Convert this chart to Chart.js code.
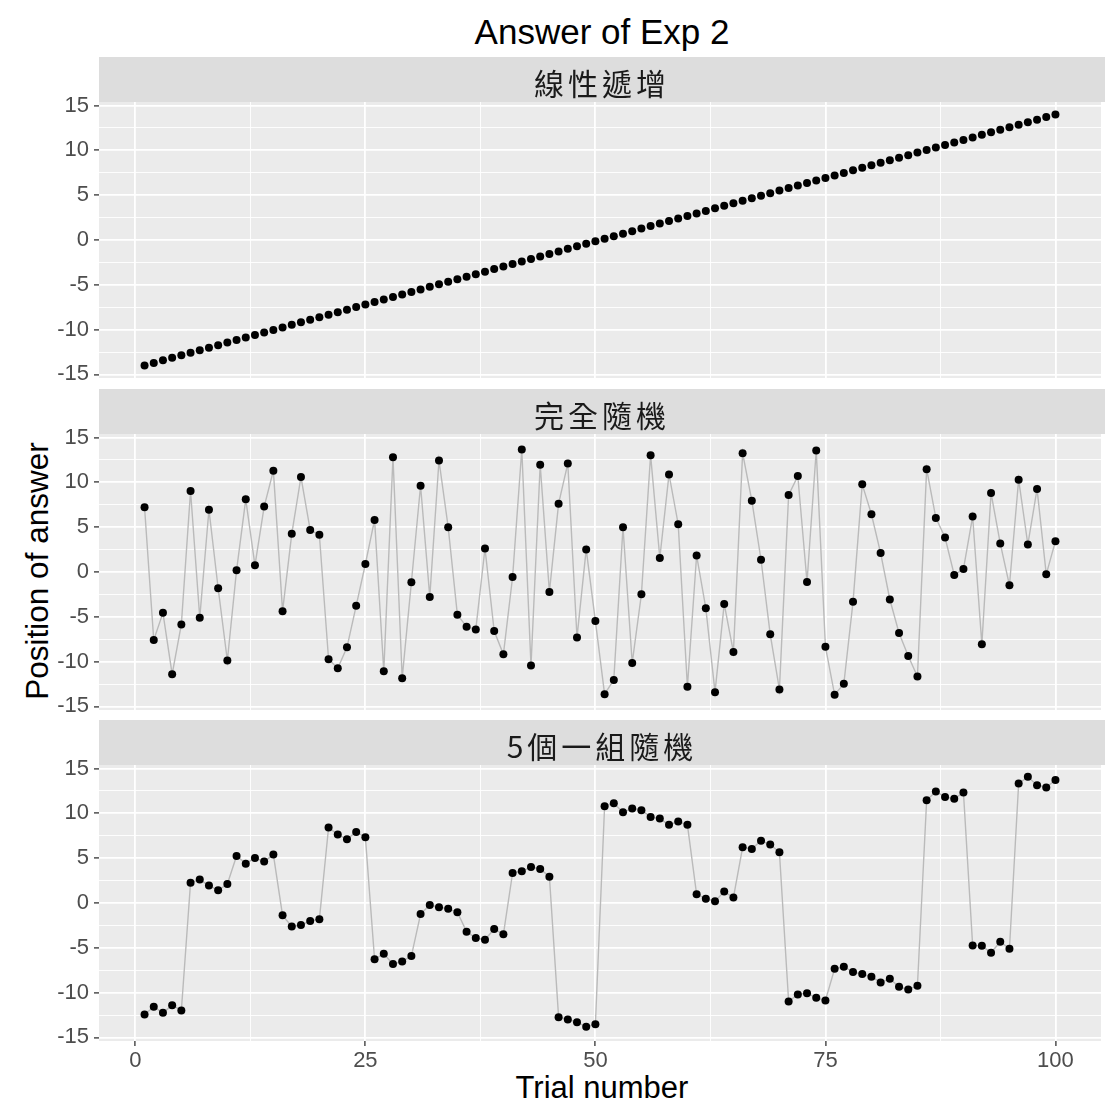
<!DOCTYPE html>
<html>
<head>
<meta charset="utf-8">
<script src="https://cdn.jsdelivr.net/npm/chart.js@4.4.0/dist/chart.umd.min.js"></script>
<style>
  body { margin: 0; background: #fff; width: 1105px; height: 1108px; position: relative; overflow: hidden;
         font-family: "Liberation Sans", Arial, sans-serif; }
  canvas { position: absolute; left: 0; }
  .strip { position: absolute; left: 99px; width: 1006px; height: 45px; background: #dddddd; color: #1a1a1a;
           font-family: "Noto Sans CJK TC", sans-serif; font-size: 30px; letter-spacing: 4px;
           text-align: center; line-height: 50px; z-index: 2; }
  .title { position: absolute; left: 99px; width: 1006px; top: 14px; text-align: center;
           font-size: 35px; line-height: 35px; color: #000; }
  .xtitle { position: absolute; left: 99px; width: 1006px; top: 1072px; text-align: center;
            font-size: 31px; line-height: 31px; color: #000; }
  .ytitle { position: absolute; left: -163px; top: 554px; width: 400px; height: 34px; text-align: center;
            font-size: 31.5px; line-height: 34px; color: #000; transform: rotate(-90deg); }
</style>
</head>
<body>
<div class="title">Answer of Exp 2</div>
<div class="strip" style="top:57px">線性遞增</div>
<div class="strip" style="top:389px">完全隨機</div>
<div class="strip" style="top:720px">5個一組隨機</div>
<div class="xtitle">Trial number</div>
<div class="ytitle">Position of answer</div>
<canvas id="p1"></canvas>
<canvas id="p2"></canvas>
<canvas id="p3"></canvas>
<script>
// trial index and tick positions
const trials = Array.from({ length: 100 }, (_, i) => i + 1);
const xMajor = [0, 25, 50, 75, 100];
const xMinor = [12.5, 37.5, 62.5, 87.5];
const yMajor = [-15, -10, -5, 0, 5, 10, 15];
const yMinor = [-12.5, -7.5, -2.5, 2.5, 7.5, 12.5];

// 線性遞增
const linearAns = [
  -14.00, -13.72, -13.43, -13.15, -12.87, -12.59, -12.30, -12.02, -11.74, -11.45,
  -11.17, -10.89, -10.61, -10.32, -10.04, -9.76, -9.47, -9.19, -8.91, -8.63,
  -8.34, -8.06, -7.78, -7.49, -7.21, -6.93, -6.65, -6.36, -6.08, -5.80,
  -5.52, -5.23, -4.95, -4.67, -4.38, -4.10, -3.82, -3.54, -3.25, -2.97,
  -2.69, -2.40, -2.12, -1.84, -1.56, -1.27, -0.99, -0.71, -0.42, -0.14,
  0.14, 0.42, 0.71, 0.99, 1.27, 1.56, 1.84, 2.12, 2.40, 2.69,
  2.97, 3.25, 3.54, 3.82, 4.10, 4.38, 4.67, 4.95, 5.23, 5.52,
  5.80, 6.08, 6.36, 6.65, 6.93, 7.21, 7.49, 7.78, 8.06, 8.34,
  8.63, 8.91, 9.19, 9.47, 9.76, 10.04, 10.32, 10.61, 10.89, 11.17,
  11.45, 11.74, 12.02, 12.30, 12.59, 12.87, 13.15, 13.43, 13.72, 14.00
];

// 完全隨機
const randomAns = [
  7.22, -7.59, -4.56, -11.40, -5.85, 9.04, -5.11, 6.96, -1.81, -9.89,
  0.19, 8.11, 0.74, 7.30, 11.30, -4.37, 4.26, 10.60, 4.70, 4.15,
  -9.74, -10.74, -8.41, -3.78, 0.89, 5.81, -11.07, 12.81, -11.85, -1.15,
  9.63, -2.78, 12.44, 5.00, -4.78, -6.11, -6.41, 2.63, -6.59, -9.19,
  -0.56, 13.67, -10.44, 11.96, -2.22, 7.63, 12.11, -7.30, 2.52, -5.48,
  -13.63, -12.04, 5.00, -10.15, -2.48, 13.04, 1.56, 10.89, 5.33, -12.81,
  1.85, -4.04, -13.41, -3.56, -8.93, 13.26, 7.96, 1.37, -6.96, -13.11,
  8.59, 10.70, -1.11, 13.56, -8.33, -13.70, -12.48, -3.33, 9.78, 6.44,
  2.11, -3.07, -6.81, -9.37, -11.67, 11.48, 6.04, 3.85, -0.33, 0.33,
  6.19, -8.07, 8.81, 3.19, -1.48, 10.30, 3.07, 9.26, -0.26, 3.44
];

// 5個一組隨機
const blockAns = [
  -12.44, -11.58, -12.25, -11.40, -11.99, 2.27, 2.61, 1.94, 1.42, 2.12,
  5.25, 4.39, 5.03, 4.62, 5.40, -1.38, -2.61, -2.46, -2.01, -1.82,
  8.42, 7.64, 7.11, 7.93, 7.34, -6.29, -5.66, -6.82, -6.52, -5.92,
  -1.23, -0.22, -0.48, -0.63, -1.04, -3.20, -3.91, -4.10, -2.90, -3.50,
  3.35, 3.54, 4.02, 3.80, 2.94, -12.74, -13.00, -13.30, -13.82, -13.52,
  10.80, 11.14, 10.13, 10.54, 10.35, 9.61, 9.42, 8.72, 9.09, 8.72,
  0.97, 0.48, 0.19, 1.27, 0.60, 6.22, 6.03, 6.96, 6.52, 5.66,
  -10.99, -10.20, -10.06, -10.58, -10.87, -7.34, -7.11, -7.71, -7.93, -8.23,
  -8.86, -8.45, -9.35, -9.65, -9.24, 11.47, 12.44, 11.84, 11.62, 12.33,
  -4.73, -4.77, -5.55, -4.32, -5.10, 13.33, 14.08, 13.15, 12.89, 13.74
];

const panelBg = {
  id: 'panelBg',
  beforeDraw(chart) {
    const { ctx, chartArea: a } = chart;
    ctx.save();
    ctx.fillStyle = '#ebebeb';
    ctx.fillRect(a.left, a.top, a.right - a.left, a.bottom - a.top);
    ctx.restore();
  }
};

const tickFont = { family: 'Liberation Sans', size: 22 };

function gridOpts(major, showTicks) {
  const isMajor = ctx => ctx.tick && major.includes(ctx.tick.value);
  return {
    color: '#ffffff',
    lineWidth: ctx => isMajor(ctx) ? 1.8 : 0.9,
    drawTicks: showTicks,
    tickLength: 5,
    tickWidth: 1.3,
    tickColor: ctx => isMajor(ctx) ? '#333333' : 'rgba(0,0,0,0)'
  };
}

function makePanel(id, top, values, withLine, bottom) {
  const canvas = document.getElementById(id);
  const h = 276;
  canvas.width = 1105;
  canvas.height = h + 15 + (bottom ? 40 : 15);
  canvas.style.top = (top - 15) + 'px';

  new Chart(canvas, {
    type: 'scatter',
    data: {
      datasets: [{
        data: trials.map((t, i) => ({ x: t, y: values[i] })),
        showLine: withLine,
        borderColor: '#bababa',
        borderWidth: 1.4,
        pointRadius: 4,
        pointHoverRadius: 4,
        pointBackgroundColor: '#000000',
        pointBorderColor: '#000000',
        pointBorderWidth: 0
      }]
    },
    options: {
      responsive: false,
      animation: false,
      devicePixelRatio: 1,
      layout: { padding: { top: 15, bottom: bottom ? 0 : 15, left: 0, right: 0 } },
      plugins: { legend: { display: false }, tooltip: { enabled: false } },
      scales: {
        x: {
          type: 'linear',
          min: -3.95,
          max: 104.95,
          border: { display: false },
          grid: gridOpts(xMajor, bottom),
          afterBuildTicks: s => { s.ticks = xMajor.concat(xMinor).sort((a, b) => a - b).map(v => ({ value: v })); },
          afterFit: s => { s.height = bottom ? 40 : 0; s.paddingLeft = 0; s.paddingRight = 0; },
          ticks: {
            display: bottom,
            autoSkip: false,
            maxRotation: 0,
            padding: 2,
            color: '#4d4d4d',
            font: tickFont,
            callback: v => xMajor.includes(v) ? String(v) : ''
          }
        },
        y: {
          min: -15.4,
          max: 15.4,
          border: { display: false },
          grid: gridOpts(yMajor, true),
          afterBuildTicks: s => { s.ticks = yMajor.concat(yMinor).sort((a, b) => a - b).map(v => ({ value: v })); },
          afterFit: s => { s.width = 99; s.paddingTop = 0; s.paddingBottom = 0; },
          ticks: {
            autoSkip: false,
            padding: 5,
            color: '#4d4d4d',
            font: tickFont,
            callback: v => yMajor.includes(v) ? String(v) : ''
          }
        }
      }
    },
    plugins: [panelBg]
  });
}

makePanel('p1', 102, linearAns, false, false);
makePanel('p2', 434, randomAns, true, false);
makePanel('p3', 765, blockAns, true, true);
</script>
</body>
</html>
